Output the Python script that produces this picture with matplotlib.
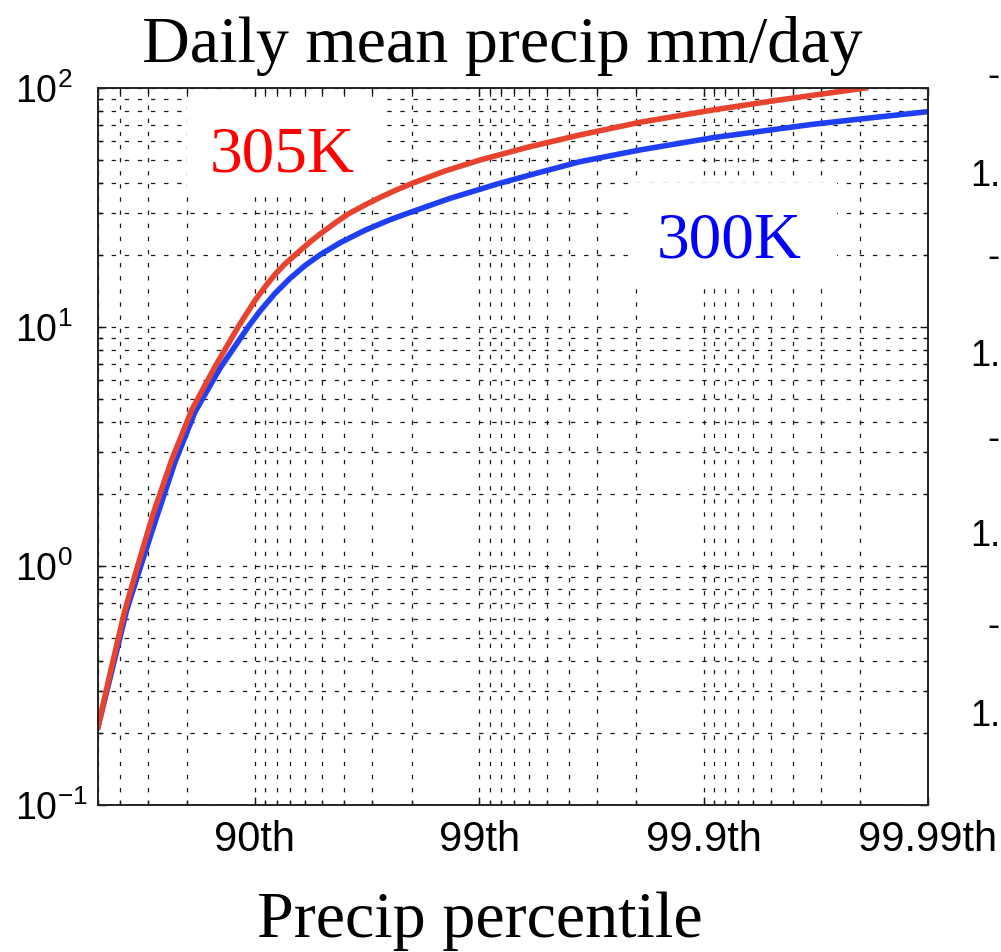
import matplotlib
matplotlib.use('Agg')
import matplotlib.pyplot as plt
import matplotlib.patches as patches
from matplotlib.ticker import LogLocator, FixedLocator, FixedFormatter, NullFormatter
import numpy as np

plt.rcParams['font.family'] = 'Liberation Sans'

# percentiles and daily mean precip (mm/day)
pct_305 = [50, 56.55, 62.09, 66.93, 71.65, 76.53, 80.88, 84.95, 88.15, 90.01,
           90.99, 91.87, 92.66, 93.38, 94.32, 94.88, 95.61, 96.16, 96.77, 97.23,
           97.63, 98.03, 98.58, 99.008, 99.406, 99.644, 99.808, 99.909, 99.954,
           99.981]
precip_305 = [0.212, 0.379, 0.654, 1.02, 1.66, 2.78, 4.49, 6.82, 10.03, 12.91,
              14.71, 16.59, 18.35, 20.01, 22.68, 24.49, 27.23, 29.70, 32.39, 34.82,
              37.25, 40.05, 44.96, 49.96, 56.81, 63.60, 71.86, 80.88, 89.1,
              100]

pct_300 = [50, 56.91, 62.75, 68.07, 72.62, 77.31, 81.52, 85.70, 89.31, 90.51,
           91.87, 93.03, 94.02, 94.88, 95.83, 96.77, 97.50, 97.97, 98.65, 99.18,
           99.406, 99.644, 99.808, 99.909, 99.9674, 99.9818, 99.99]
precip_300 = [0.212, 0.374, 0.654, 1.029, 1.603, 2.723, 4.41, 6.72, 10.03, 11.65,
              13.82, 15.97, 18.07, 20.05, 22.51, 25.39, 28.09, 30.17, 34.52, 39.8,
              43.25, 49.15, 55.04, 61.94, 70.48, 74.9, 79.6]

tick_pct = [90, 99, 99.9, 99.99]
tick_labels = ['90th', '99th', '99.9th', '99.99th']

# x axis is the exceedance fraction 1 - p/100 on a reversed log scale
def exceed(p):
    return 1 - np.asarray(p) / 100.0

fig = plt.figure(figsize=(10.01, 9.52), dpi=100)
ax = fig.add_axes([0.0979, 0.1544, 0.8292, 0.7532])

ax.set_xscale('log')
ax.set_yscale('log')
ax.set_xlim(0.5, 1e-4)
ax.set_ylim(0.1, 100)

ax.plot(exceed(pct_300), precip_300, color='#1f3ff5', lw=4.0, zorder=2,
        solid_joinstyle='round')
ax.plot(exceed(pct_305), precip_305, color='#e8432e', lw=4.0, zorder=2.1,
        solid_joinstyle='round')

# x ticks
ax.xaxis.set_major_locator(FixedLocator(exceed(tick_pct)))
ax.xaxis.set_major_formatter(FixedFormatter(tick_labels))
ax.xaxis.set_minor_locator(LogLocator(base=10, subs=np.arange(2, 10), numticks=20))
ax.xaxis.set_minor_formatter(NullFormatter())
ax.yaxis.set_minor_locator(LogLocator(base=10, subs=np.arange(2, 10), numticks=20))
ax.yaxis.set_minor_formatter(NullFormatter())

ax.tick_params(which='both', direction='in', top=True, right=True, width=1,
               color='#111111')
ax.tick_params(which='major', length=6, pad=11)
ax.tick_params(axis='x', which='major', labelsize=30)
# y labels are left aligned a fixed distance from the axis
ax.tick_params(axis='y', which='major', labelsize=27, pad=60)
ax.tick_params(which='minor', length=3.5)
for lab in ax.get_yticklabels():
    lab.set_horizontalalignment('left')

ax.set_axisbelow(True)
ax.grid(True, which='both', color='black', lw=0.9, ls=(0, (3.5, 7)), alpha=0.9)

for s in ax.spines.values():
    s.set_linewidth(1.4)
    s.set_color('#222222')

# white boxes behind the curve labels
ax.add_patch(patches.Rectangle((0.107, 0.848), 0.235, 0.140, transform=ax.transAxes,
                               facecolor='white', edgecolor='none', zorder=1))
ax.add_patch(patches.Rectangle((0.639, 0.7225), 0.251, 0.145, transform=ax.transAxes,
                               facecolor='white', edgecolor='none', zorder=1))

ax.text(0.135, 0.883, '305K', transform=ax.transAxes, color='red',
        fontsize=47, family='Liberation Serif', va='baseline', ha='left', zorder=3)
ax.text(0.673, 0.763, '300K', transform=ax.transAxes, color='blue',
        fontsize=47, family='Liberation Serif', va='baseline', ha='left', zorder=3)

fig.text(0.502, 0.935, 'Daily mean precip mm/day', fontsize=47.5,
         family='Liberation Serif', ha='center', va='baseline')
fig.text(0.4795, 0.0158, 'Precip percentile', fontsize=47.5,
         family='Liberation Serif', ha='center', va='baseline')

# labels of the neighbouring panel at the right edge
for yy in [0.8145, 0.625, 0.436, 0.247]:
    fig.text(0.999, yy, '1.', fontsize=26, ha='right', va='center')
for yy in [0.920, 0.729, 0.538, 0.342]:
    fig.text(0.999, yy, '-', fontsize=26, ha='right', va='center')

fig.savefig('out.png', dpi=100)
